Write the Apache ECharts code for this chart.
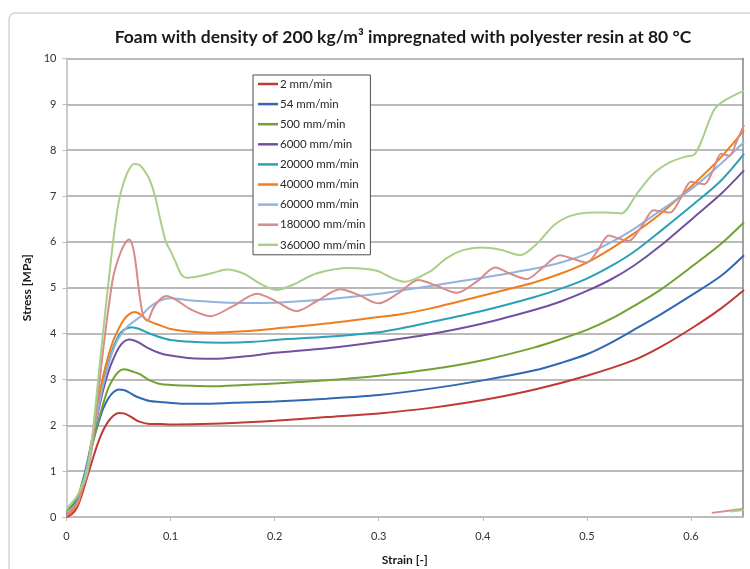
<!DOCTYPE html>
<html>
<head>
<meta charset="utf-8">
<script src="https://cdn.jsdelivr.net/npm/echarts@6/dist/echarts.min.js"></script>
<style>
  html, body { margin: 0; padding: 0; background: #ffffff; }
  #chart { width: 750px; height: 569px; }
</style>
</head>
<body>
<div id="chart"></div>
<script>
// Compression tests: stress-strain curves at different crosshead speeds
const seriesNames = ['2 mm/min', '54 mm/min', '500 mm/min', '6000 mm/min', '20000 mm/min',
  '40000 mm/min', '60000 mm/min', '180000 mm/min', '360000 mm/min'];
const seriesColors = ['#bf3a35', '#3168b2', '#72a232', '#7451a0', '#2ba0b9',
  '#ef7e1d', '#93b3dc', '#d78c89', '#a9d08a'];

const xTicks = { min: 0, max: 0.65, step: 0.1 };
const yTicks = { min: 0, max: 10, step: 1 };

// [strain, stress MPa]
const rate2 = [[0,0.0],[0.005,0.06],[0.01,0.2],[0.015,0.5],[0.02,0.88],[0.025,1.25],[0.03,1.6],[0.035,1.88],
  [0.04,2.08],[0.045,2.21],[0.05,2.27],[0.055,2.26],[0.06,2.21],[0.065,2.14],[0.07,2.08],[0.08,2.03],
  [0.09,2.03],[0.1,2.02],[0.13,2.03],[0.16,2.05],[0.2,2.1],[0.25,2.18],[0.3,2.26],[0.35,2.38],
  [0.4,2.55],[0.45,2.78],[0.5,3.08],[0.545,3.42],[0.571,3.71],[0.603,4.15],[0.629,4.55],[0.651,4.95]];
const rate54 = [[0,0.05],[0.01,0.3],[0.015,0.7],[0.02,1.1],[0.025,1.6],[0.03,2.0],[0.035,2.35],[0.04,2.58],
  [0.045,2.72],[0.05,2.78],[0.055,2.77],[0.06,2.72],[0.065,2.65],[0.07,2.6],[0.08,2.53],[0.09,2.51],
  [0.11,2.47],[0.13,2.47],[0.16,2.49],[0.2,2.52],[0.25,2.58],[0.3,2.66],[0.35,2.8],[0.4,2.98],
  [0.45,3.2],[0.475,3.36],[0.5,3.55],[0.523,3.8],[0.545,4.08],[0.571,4.42],[0.603,4.87],[0.629,5.26],[0.651,5.71]];
const rate500 = [[0,0.12],[0.01,0.4],[0.015,0.75],[0.02,1.15],[0.025,1.6],[0.03,2.05],[0.035,2.45],[0.04,2.8],
  [0.045,3.02],[0.05,3.17],[0.055,3.22],[0.06,3.2],[0.065,3.16],[0.07,3.12],[0.075,3.05],[0.08,2.98],
  [0.09,2.9],[0.1,2.88],[0.12,2.86],[0.14,2.85],[0.17,2.88],[0.2,2.91],[0.25,2.98],[0.3,3.08],
  [0.35,3.22],[0.4,3.42],[0.45,3.7],[0.475,3.88],[0.5,4.08],[0.523,4.32],[0.545,4.6],[0.571,4.96],
  [0.603,5.5],[0.629,5.96],[0.651,6.43]];
const rate6000 = [[0,0.08],[0.01,0.35],[0.015,0.7],[0.02,1.15],[0.025,1.7],[0.03,2.25],[0.035,2.75],[0.04,3.15],
  [0.045,3.45],[0.05,3.68],[0.055,3.82],[0.06,3.87],[0.065,3.85],[0.07,3.8],[0.077,3.7],[0.09,3.57],
  [0.1,3.52],[0.12,3.46],[0.14,3.45],[0.17,3.5],[0.2,3.58],[0.25,3.68],[0.3,3.82],[0.35,3.99],
  [0.4,4.22],[0.45,4.52],[0.475,4.7],[0.5,4.93],[0.523,5.18],[0.545,5.48],[0.571,5.92],[0.603,6.54],
  [0.629,7.05],[0.651,7.56]];
const rate20000 = [[0,0.05],[0.01,0.35],[0.015,0.72],[0.02,1.2],[0.025,1.75],[0.03,2.35],[0.035,2.9],[0.04,3.35],
  [0.045,3.7],[0.05,3.95],[0.055,4.08],[0.0625,4.14],[0.07,4.1],[0.077,4.03],[0.09,3.92],[0.1,3.86],
  [0.12,3.82],[0.15,3.8],[0.18,3.82],[0.205,3.87],[0.25,3.93],[0.3,4.03],[0.321,4.11],[0.35,4.25],
  [0.4,4.5],[0.45,4.8],[0.475,4.98],[0.5,5.2],[0.523,5.47],[0.545,5.78],[0.571,6.24],[0.603,6.83],
  [0.629,7.34],[0.651,7.92]];
const rate40000 = [[0,0.02],[0.01,0.25],[0.015,0.6],[0.02,1.1],[0.025,1.75],[0.03,2.45],[0.035,3.05],[0.04,3.5],
  [0.045,3.85],[0.05,4.1],[0.055,4.3],[0.06,4.42],[0.066,4.47],[0.072,4.4],[0.077,4.3],[0.085,4.22],
  [0.09,4.18],[0.1,4.1],[0.12,4.04],[0.14,4.02],[0.17,4.05],[0.205,4.12],[0.25,4.22],[0.3,4.36],
  [0.321,4.42],[0.35,4.55],[0.4,4.83],[0.45,5.12],[0.475,5.31],[0.5,5.55],[0.523,5.85],[0.545,6.18],
  [0.571,6.62],[0.603,7.27],[0.629,7.85],[0.651,8.43]];
const rate60000 = [[0,0.1],[0.01,0.3],[0.015,0.65],[0.02,1.1],[0.025,1.7],[0.03,2.3],[0.035,2.85],[0.04,3.3],
  [0.045,3.65],[0.05,3.9],[0.058,4.14],[0.065,4.27],[0.0705,4.36],[0.08,4.58],[0.09,4.72],[0.1,4.77],
  [0.12,4.72],[0.15,4.68],[0.18,4.67],[0.205,4.68],[0.25,4.75],[0.3,4.87],[0.321,4.94],[0.35,5.04],
  [0.4,5.22],[0.45,5.42],[0.475,5.55],[0.5,5.74],[0.523,5.99],[0.545,6.28],[0.571,6.69],[0.603,7.2],
  [0.629,7.71],[0.651,8.18]];
const rate180000 = [[0,0.05],[0.01,0.3],[0.015,0.6],[0.02,0.95],[0.025,1.6],[0.03,2.6],[0.035,3.6],[0.04,4.5],
  [0.045,5.25],[0.05,5.65],[0.055,5.92],[0.06,6.05],[0.063,5.95],[0.0657,5.66],[0.0705,4.79],[0.0737,4.39],
  [0.0776,4.28],[0.0833,4.55],[0.09,4.75],[0.096,4.82],[0.105,4.74],[0.12,4.52],[0.138,4.38],[0.16,4.6],
  [0.183,4.87],[0.2,4.72],[0.221,4.49],[0.24,4.7],[0.263,4.97],[0.28,4.85],[0.3,4.66],[0.32,4.9],
  [0.338,5.17],[0.355,5.05],[0.375,4.89],[0.395,5.15],[0.412,5.44],[0.427,5.3],[0.442,5.19],[0.458,5.45],
  [0.474,5.71],[0.488,5.62],[0.5,5.55],[0.51,5.8],[0.521,6.14],[0.53,6.08],[0.54,6.02],[0.553,6.35],
  [0.564,6.69],[0.572,6.66],[0.58,6.64],[0.59,6.95],[0.6,7.31],[0.607,7.28],[0.613,7.26],[0.621,7.55],
  [0.629,7.92],[0.637,7.88],[0.644,8.2],[0.651,8.55],
  ['-','-'],[0.62,0.09],[0.651,0.18]];
const rate360000 = [[0,0.18],[0.01,0.45],[0.015,0.7],[0.02,1.0],[0.025,1.8],[0.03,2.9],[0.035,4.0],[0.04,5.05],
  [0.045,6.05],[0.05,6.85],[0.055,7.3],[0.06,7.58],[0.065,7.7],[0.07,7.68],[0.075,7.55],[0.08,7.35],
  [0.085,7.0],[0.09,6.5],[0.0955,6.0],[0.1,5.8],[0.105,5.55],[0.11,5.3],[0.115,5.22],[0.122,5.23],
  [0.14,5.32],[0.154,5.4],[0.17,5.31],[0.185,5.1],[0.196,4.98],[0.202,4.95],[0.218,5.07],[0.24,5.31],
  [0.272,5.43],[0.298,5.37],[0.312,5.22],[0.325,5.13],[0.349,5.35],[0.365,5.64],[0.381,5.82],[0.398,5.88],
  [0.417,5.83],[0.436,5.71],[0.452,5.96],[0.468,6.36],[0.481,6.54],[0.494,6.62],[0.507,6.64],[0.52,6.64],
  [0.533,6.62],[0.548,7.05],[0.564,7.49],[0.58,7.74],[0.595,7.86],[0.603,7.9],[0.609,8.14],[0.622,8.87],
  [0.632,9.08],[0.651,9.3],
  ['-','-'],[0.638,0.12],[0.651,0.15]];

const seriesData = [rate2, rate54, rate500, rate6000, rate20000, rate40000, rate60000, rate180000, rate360000];

const FONT = 'Lato, "Open Sans", "DejaVu Sans", sans-serif';

const chart = echarts.init(document.getElementById('chart'), null, { renderer: 'canvas' });

const option = {
  animation: false,
  backgroundColor: '#ffffff',
  textStyle: { fontFamily: FONT },
  title: {
    text: 'Foam with density of 200 kg/m\u00b3 impregnated with polyester resin at 80 \u00b0C',
    left: 403,
    textAlign: 'center',
    top: 28,
    padding: 0,
    textStyle: { fontFamily: FONT, fontSize: 17.5, fontWeight: 'bold', color: '#1a1a1a' }
  },
  graphic: [{
    type: 'rect',
    silent: true,
    z: -1,
    shape: { x: 9, y: 13, width: 800, height: 620, r: 6 },
    style: { fill: 'none', stroke: '#d6d6d6', lineWidth: 1.5 }
  }],
  legend: {
    orient: 'vertical',
    left: 253,
    top: 75,
    padding: [3, 5, 4, 5],
    icon: 'rect',
    itemWidth: 20,
    itemHeight: 2.5,
    itemGap: 8.1,
    backgroundColor: '#ffffff',
    borderColor: '#4d4d4d',
    borderWidth: 1,
    data: seriesNames,
    textStyle: { fontFamily: FONT, fontSize: 11.5, lineHeight: 12, color: '#262626', padding: [0, 0, 0, -3] }
  },
  grid: {
    left: 66.5, right: 7, top: 58.5, bottom: 52,
    outerBoundsMode: 'none'
  },
  xAxis: {
    type: 'value',
    min: xTicks.min, max: xTicks.max, interval: xTicks.step,
    name: 'Strain [-]',
    nameLocation: 'middle',
    nameGap: 37,
    nameTextStyle: { fontFamily: FONT, fontSize: 12, fontWeight: 'bold', color: '#1a1a1a' },
    axisLine: { show: true, onZero: false, lineStyle: { color: '#bdbdbd', width: 1.5 } },
    axisTick: { show: true, length: 4, lineStyle: { color: '#bdbdbd' } },
    axisLabel: { fontFamily: FONT, fontSize: 11, color: '#333333', margin: 14, showMaxLabel: false },
    splitLine: { show: false }
  },
  yAxis: [{
    type: 'value',
    min: yTicks.min, max: yTicks.max, interval: yTicks.step,
    name: 'Stress [MPa]',
    nameLocation: 'middle',
    nameGap: 33,
    nameTextStyle: { fontFamily: FONT, fontSize: 12, fontWeight: 'bold', color: '#1a1a1a' },
    axisLine: { show: true, lineStyle: { color: '#bdbdbd', width: 1.5 } },
    axisTick: { show: true, length: 4, lineStyle: { color: '#bdbdbd' } },
    axisLabel: { fontFamily: FONT, fontSize: 11, color: '#333333', margin: 10 },
    splitLine: { show: true, lineStyle: { color: '#a3a3a3', width: 1.5 } }
  }, {
    type: 'value',
    position: 'right',
    min: yTicks.min, max: yTicks.max, interval: yTicks.step,
    axisLine: { show: true, lineStyle: { color: '#858585', width: 1.5 } },
    axisTick: { show: false },
    axisLabel: { show: false },
    splitLine: { show: false }
  }],
  series: seriesNames.map((name, i) => ({
    name: name,
    type: 'line',
    data: seriesData[i],
    symbol: 'none',
    smooth: 0.3,
    connectNulls: false,
    clip: true,
    color: seriesColors[i],
    lineStyle: { width: 2, color: seriesColors[i] }
  }))
};

chart.setOption(option);
</script>
</body>
</html>
